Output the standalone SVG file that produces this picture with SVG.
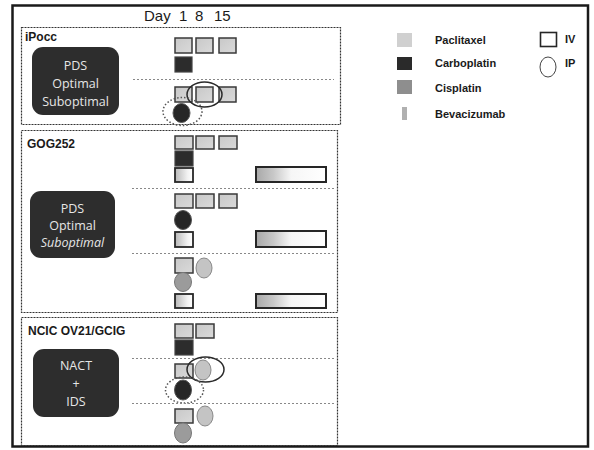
<svg xmlns="http://www.w3.org/2000/svg" width="594" height="450" viewBox="0 0 594 450">
  <style>
    .frame { fill: none; stroke: #1a1a1a; stroke-width: 2.5; }
    .panel { fill: none; stroke: #333; stroke-width: 1.2; stroke-dasharray: 2 1; }
    .sep { fill: none; stroke: #888; stroke-width: 1; stroke-dasharray: 2 2; }
    .pac { fill: url(#pacFill); stroke: #3a3a3a; stroke-width: 1.5; }
    .carb { fill: #2c2c2c; stroke: #444; stroke-width: 1.2; }
    .bev { fill: url(#bevFill); stroke: #262626; stroke-width: 1.8; }
    .bar { fill: url(#barFill); stroke: #262626; stroke-width: 2; }
    .ipPac { fill: #c4c4c4; stroke: #888; stroke-width: 1; }
    .ipCis { fill: #9b9b9b; stroke: #777; stroke-width: 1; }
    .ipCarb { fill: #262626; stroke: #555; stroke-width: 1; }
    .ring { fill: none; stroke: #2a2a2a; stroke-width: 1.5; }
    .dotring { fill: none; stroke: #555; stroke-width: 1.5; stroke-dasharray: 1.5 2; }
    .box { fill: #2d2d2d; }
    .boxText { font-family: "Open Sans", "Liberation Sans", sans-serif; font-size: 12.5px; fill: #e6e6e6; text-anchor: middle; }
    .label { font-family: "Liberation Sans", Arial, sans-serif; font-size: 12px; font-weight: bold; fill: #1a1a1a; }
    .legend { font-family: "Liberation Sans", Arial, sans-serif; font-size: 11px; font-weight: bold; fill: #1a1a1a; }
    .day { font-family: "Liberation Sans", Arial, sans-serif; font-size: 15px; fill: #1a1a1a; }
  </style>
  <defs>
    <linearGradient id="pacFill" x1="0" y1="0" x2="1" y2="1">
      <stop offset="0" stop-color="#c8c8c8"/>
      <stop offset="1" stop-color="#dadada"/>
    </linearGradient>
    <linearGradient id="bevFill" x1="0" y1="0" x2="1" y2="0">
      <stop offset="0" stop-color="#b8b8b8"/>
      <stop offset="0.7" stop-color="#f2f2f2"/>
      <stop offset="1" stop-color="#ffffff"/>
    </linearGradient>
    <linearGradient id="barFill" x1="0" y1="0" x2="1" y2="0">
      <stop offset="0" stop-color="#a8a8a8"/>
      <stop offset="0.25" stop-color="#c8c8c8"/>
      <stop offset="0.5" stop-color="#f6f6f6"/>
      <stop offset="1" stop-color="#ffffff"/>
    </linearGradient>
  </defs>

  <rect width="594" height="450" fill="#ffffff"/>

  <!-- outer frame -->
  <rect class="frame" x="12.5" y="5.5" width="575.5" height="441"/>

  <!-- day header -->
  <g id="dayHeader">
    <text class="day" x="144" y="21">Day</text>
    <text class="day" x="179" y="21">1</text>
    <text class="day" x="195" y="21">8</text>
    <text class="day" x="214" y="21">15</text>
  </g>

  <!-- iPocc -->
  <g id="ipocc">
    <rect class="panel" x="21.5" y="27.5" width="319" height="97"/>
    <text class="label" x="25" y="41">iPocc</text>
    <rect class="box" x="32" y="47" width="87" height="68" rx="11"/>
    <text class="boxText" x="75.5" y="70">PDS</text>
    <text class="boxText" x="75.5" y="88">Optimal</text>
    <text class="boxText" x="75.5" y="106">Suboptimal</text>
    <rect class="pac" x="175" y="38" width="17" height="15"/>
    <rect class="pac" x="196" y="38" width="17" height="15"/>
    <rect class="pac" x="219" y="38" width="17" height="15"/>
    <rect class="carb" x="175" y="57" width="17" height="15"/>
    <line class="sep" x1="133" y1="79.5" x2="334" y2="79.5"/>
    <rect class="pac" x="175" y="87" width="17" height="15"/>
    <rect class="pac" x="196" y="87" width="17" height="15"/>
    <rect class="pac" x="219" y="87" width="17" height="15"/>
    <ellipse class="ring" cx="204.5" cy="94.5" rx="17.5" ry="12.5"/>
    <ellipse class="ipCarb" cx="181.5" cy="113" rx="8.5" ry="9.5"/>
    <ellipse class="dotring" cx="182.5" cy="111.5" rx="19.5" ry="14"/>
  </g>

  <!-- GOG252 -->
  <g id="gog252">
    <rect class="panel" x="21.5" y="130.5" width="316" height="182"/>
    <text class="label" x="27" y="148">GOG252</text>
    <rect class="box" x="30" y="191" width="85" height="67" rx="11"/>
    <text class="boxText" x="72.5" y="213">PDS</text>
    <text class="boxText" x="72.5" y="230">Optimal</text>
    <text class="boxText" x="72.5" y="247" font-style="italic">Suboptimal</text>

    <rect class="pac" x="175" y="136" width="18" height="13"/>
    <rect class="pac" x="196" y="136" width="18" height="13"/>
    <rect class="pac" x="219" y="136" width="18" height="13"/>
    <rect class="carb" x="175" y="151" width="18" height="15"/>
    <rect class="bev" x="175" y="168" width="18" height="14"/>
    <rect class="bar" x="256" y="167" width="70" height="15"/>
    <line class="sep" x1="132" y1="188.5" x2="334" y2="188.5"/>

    <rect class="pac" x="175" y="194" width="18" height="14"/>
    <rect class="pac" x="196" y="194" width="18" height="14"/>
    <rect class="pac" x="219" y="194" width="18" height="14"/>
    <ellipse class="ipCarb" cx="183" cy="220" rx="8.5" ry="9.5"/>
    <rect class="bev" x="175" y="232" width="18" height="15"/>
    <rect class="bar" x="256" y="231" width="70" height="16"/>
    <line class="sep" x1="132" y1="253.5" x2="334" y2="253.5"/>

    <rect class="pac" x="175" y="258" width="18" height="15"/>
    <ellipse class="ipPac" cx="204" cy="268" rx="8" ry="10"/>
    <ellipse class="ipCis" cx="183" cy="282" rx="8.5" ry="9.5"/>
    <rect class="bev" x="175" y="294" width="18" height="14"/>
    <rect class="bar" x="256" y="294" width="70" height="14"/>
  </g>

  <!-- NCIC OV21/GCIG -->
  <g id="ncic">
    <rect class="panel" x="21.5" y="317.5" width="316" height="128"/>
    <text class="label" x="28" y="335">NCIC OV21/GCIG</text>
    <rect class="box" x="33" y="349" width="86" height="68" rx="11"/>
    <text class="boxText" x="76" y="370">NACT</text>
    <text class="boxText" x="76" y="388">+</text>
    <text class="boxText" x="76" y="406">IDS</text>

    <rect class="pac" x="175" y="324" width="18" height="14"/>
    <rect class="pac" x="196" y="324" width="18" height="14"/>
    <rect class="carb" x="175" y="340" width="18" height="15"/>
    <line class="sep" x1="132" y1="358.5" x2="334" y2="358.5"/>

    <rect class="pac" x="175" y="364" width="18" height="14"/>
    <ellipse class="ipPac" cx="203" cy="370" rx="8" ry="10"/>
    <ellipse class="ring" cx="205.5" cy="369.5" rx="18.5" ry="12.5"/>
    <ellipse class="ipCarb" cx="183" cy="390" rx="8.5" ry="10"/>
    <ellipse class="dotring" cx="184.5" cy="390" rx="19" ry="13"/>
    <line class="sep" x1="132" y1="403.5" x2="334" y2="403.5"/>

    <rect class="pac" x="175" y="409" width="18" height="14"/>
    <ellipse class="ipPac" cx="205" cy="416" rx="8" ry="10"/>
    <ellipse class="ipCis" cx="183" cy="433" rx="8.5" ry="10"/>
  </g>

  <!-- legend -->
  <g id="legend">
    <rect x="397" y="33" width="15" height="14" fill="#d0d0d0"/>
    <text class="legend" x="435" y="44">Paclitaxel</text>
    <rect x="397" y="57" width="15" height="13" fill="#2a2a2a"/>
    <text class="legend" x="435" y="67">Carboplatin</text>
    <rect x="397" y="80" width="15" height="14" fill="#8e8e8e"/>
    <text class="legend" x="435" y="92">Cisplatin</text>
    <rect x="402" y="107" width="5" height="13" fill="#b0b0b0"/>
    <text class="legend" x="435" y="118">Bevacizumab</text>
    <rect x="540.5" y="32.5" width="16" height="14" fill="none" stroke="#262626" stroke-width="1.6"/>
    <text class="legend" x="565" y="43">IV</text>
    <ellipse cx="548" cy="67" rx="8" ry="10" fill="none" stroke="#444" stroke-width="1"/>
    <text class="legend" x="565" y="67">IP</text>
  </g>
</svg>
